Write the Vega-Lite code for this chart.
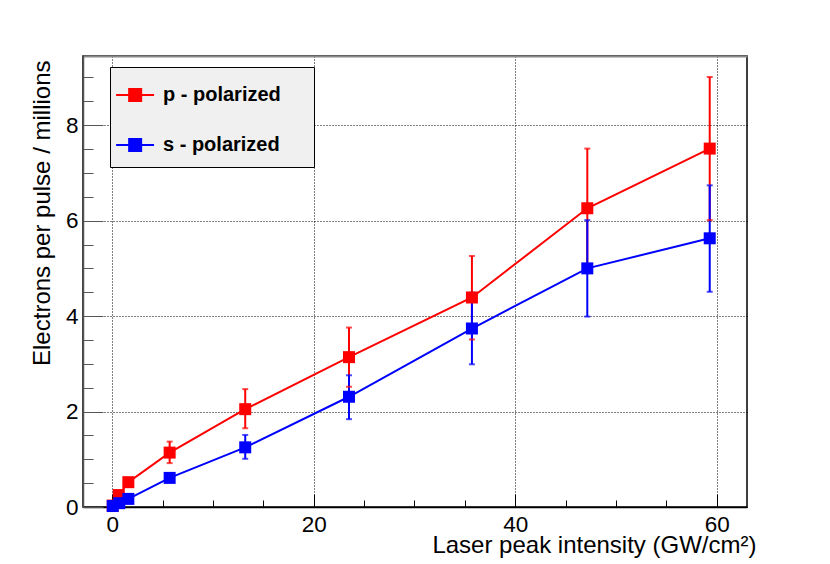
{
  "$schema": "https://vega.github.io/schema/vega-lite/v6.json",
  "width": 664,
  "height": 451,
  "autosize": {"type": "none"},
  "padding": {"left": 83, "top": 56, "right": 83, "bottom": 57},
  "background": "white",
  "config": {
    "font": "Liberation Sans",
    "view": {"stroke": "#000", "strokeWidth": 1.5},
    "axis": {"labelColor": "#000", "titleColor": "#000", "titleFontWeight": "normal", "labelFontSize": 22.5, "titleFontSize": 24}
  },
  "data": {
    "values": [
      {"pol": "p - polarized", "x": 0.05, "y": 0.03, "lo": 0.03, "hi": 0.03},
      {"pol": "p - polarized", "x": 0.65, "y": 0.25, "lo": 0.25, "hi": 0.25},
      {"pol": "p - polarized", "x": 1.6, "y": 0.52, "lo": 0.52, "hi": 0.52},
      {"pol": "p - polarized", "x": 5.7, "y": 1.14, "lo": 0.92, "hi": 1.37},
      {"pol": "p - polarized", "x": 13.2, "y": 2.05, "lo": 1.65, "hi": 2.47},
      {"pol": "p - polarized", "x": 23.5, "y": 3.14, "lo": 2.52, "hi": 3.76},
      {"pol": "p - polarized", "x": 35.7, "y": 4.39, "lo": 3.51, "hi": 5.26},
      {"pol": "p - polarized", "x": 47.15, "y": 6.26, "lo": 5.01, "hi": 7.51},
      {"pol": "p - polarized", "x": 59.3, "y": 7.51, "lo": 6.01, "hi": 9.01},
      {"pol": "s - polarized", "x": 0.05, "y": 0.02, "lo": 0.02, "hi": 0.02},
      {"pol": "s - polarized", "x": 0.7, "y": 0.08, "lo": 0.08, "hi": 0.08},
      {"pol": "s - polarized", "x": 1.6, "y": 0.17, "lo": 0.17, "hi": 0.17},
      {"pol": "s - polarized", "x": 5.7, "y": 0.61, "lo": 0.55, "hi": 0.67},
      {"pol": "s - polarized", "x": 13.2, "y": 1.25, "lo": 1.01, "hi": 1.51},
      {"pol": "s - polarized", "x": 23.5, "y": 2.31, "lo": 1.84, "hi": 2.76},
      {"pol": "s - polarized", "x": 35.7, "y": 3.74, "lo": 2.99, "hi": 4.49},
      {"pol": "s - polarized", "x": 47.15, "y": 5.0, "lo": 3.99, "hi": 6.01},
      {"pol": "s - polarized", "x": 59.3, "y": 5.63, "lo": 4.51, "hi": 6.74}
    ]
  },
  "encoding": {
    "color": {
      "field": "pol",
      "type": "nominal",
      "scale": {"domain": ["p - polarized", "s - polarized"], "range": ["#ff0000", "#0000ff"]},
      "legend": {
        "title": null,
        "orient": "none",
        "legendX": 27,
        "legendY": 11,
        "padding": 12,
        "fillColor": "#f0f0f0",
        "strokeColor": "#000",
        "labelFont": "Liberation Sans",
        "labelFontSize": 20,
        "labelFontWeight": "bold",
        "labelColor": "#000",
        "labelOffset": 9,
        "rowPadding": 24,
        "symbolType": "M-1.46,0H1.07M-0.59,-0.4H0.21V0.4H-0.59Z",
        "symbolSize": 900,
        "symbolStrokeWidth": 2,
        "labelExpr": "datum.label + '\u00a0\u2800'",
        "encode": {
          "symbols": {
            "update": {
              "fill": {"scale": "color", "field": "value"},
              "stroke": {"scale": "color", "field": "value"},
              "strokeWidth": {"value": 2},
              "opacity": {"value": 1}
            }
          }
        }
      }
    }
  },
  "layer": [
    {
      "mark": {"type": "rule", "strokeWidth": 2},
      "encoding": {
        "x": {
          "field": "x",
          "type": "quantitative",
          "scale": {"domain": [-2.9, 63], "nice": false, "zero": false},
          "axis": {
            "orient": "bottom",
            "values": [0, 20, 40, 60],
            "format": "d",
            "domainColor": "#000",
            "domainWidth": 1.5,
            "tickColor": "#000",
            "tickSize": -13,
            "tickWidth": 1,
            "labelPadding": 19,
            "grid": true,
            "gridColor": "#000",
            "gridDash": [1, 2],
            "gridOpacity": 1,
            "title": "Laser peak intensity (GW/cm²)",
            "titleAnchor": "end",
            "titleAlign": "right",
            "titleBaseline": "alphabetic",
            "titleX": 673,
            "titleY": 45
          }
        },
        "y": {
          "field": "lo",
          "type": "quantitative",
          "scale": {"domain": [0, 9.45], "nice": false},
          "axis": {
            "orient": "left",
            "values": [0, 2, 4, 6, 8],
            "format": "d",
            "domainColor": "#555",
            "domainWidth": 1.5,
            "tickColor": "#555",
            "tickSize": -20,
            "tickWidth": 1,
            "labelPadding": 25,
            "grid": true,
            "gridColor": "#000",
            "gridDash": [1, 2],
            "gridOpacity": 1,
            "title": "Electrons per pulse / millions",
            "titleAngle": 270,
            "titleAlign": "right",
            "titleBaseline": "alphabetic",
            "titleX": -34,
            "titleY": 4
          }
        },
        "y2": {"field": "hi"}
      }
    },
    {
      "mark": {"type": "tick", "orient": "horizontal", "size": 6, "thickness": 2},
      "encoding": {
        "x": {
          "field": "x",
          "type": "quantitative",
          "axis": {
            "orient": "bottom",
            "values": [5, 10, 15, 25, 30, 35, 45, 50, 55],
            "domain": false,
            "labels": false,
            "grid": false,
            "tickColor": "#000",
            "tickSize": -7,
            "tickWidth": 1,
            "title": null
          }
        },
        "y": {
          "field": "hi",
          "type": "quantitative",
          "axis": {
            "orient": "left",
            "values": [0.5, 1, 1.5, 2.5, 3, 3.5, 4.5, 5, 5.5, 6.5, 7, 7.5, 8.5, 9],
            "domain": false,
            "labels": false,
            "grid": false,
            "tickColor": "#555",
            "tickSize": -10,
            "tickWidth": 1,
            "title": null
          }
        }
      }
    },
    {
      "mark": {"type": "tick", "orient": "horizontal", "size": 6, "thickness": 2},
      "encoding": {
        "x": {
          "field": "x",
          "type": "quantitative",
          "axis": {
            "orient": "top",
            "domain": true,
            "domainColor": "#888",
            "domainWidth": 2,
            "ticks": false,
            "labels": false,
            "grid": false,
            "title": null
          }
        },
        "y": {"field": "lo", "type": "quantitative", "axis": null}
      }
    },
    {
      "mark": {"type": "line", "strokeWidth": 2},
      "encoding": {
        "x": {"field": "x", "type": "quantitative", "axis": null},
        "y": {"field": "y", "type": "quantitative", "axis": null}
      }
    },
    {
      "mark": {"type": "point", "shape": "square", "filled": true, "size": 144, "opacity": 1},
      "encoding": {
        "x": {"field": "x", "type": "quantitative", "axis": null},
        "y": {"field": "y", "type": "quantitative", "axis": null}
      }
    }
  ],
  "resolve": {"axis": {"x": "independent", "y": "independent"}}
}
